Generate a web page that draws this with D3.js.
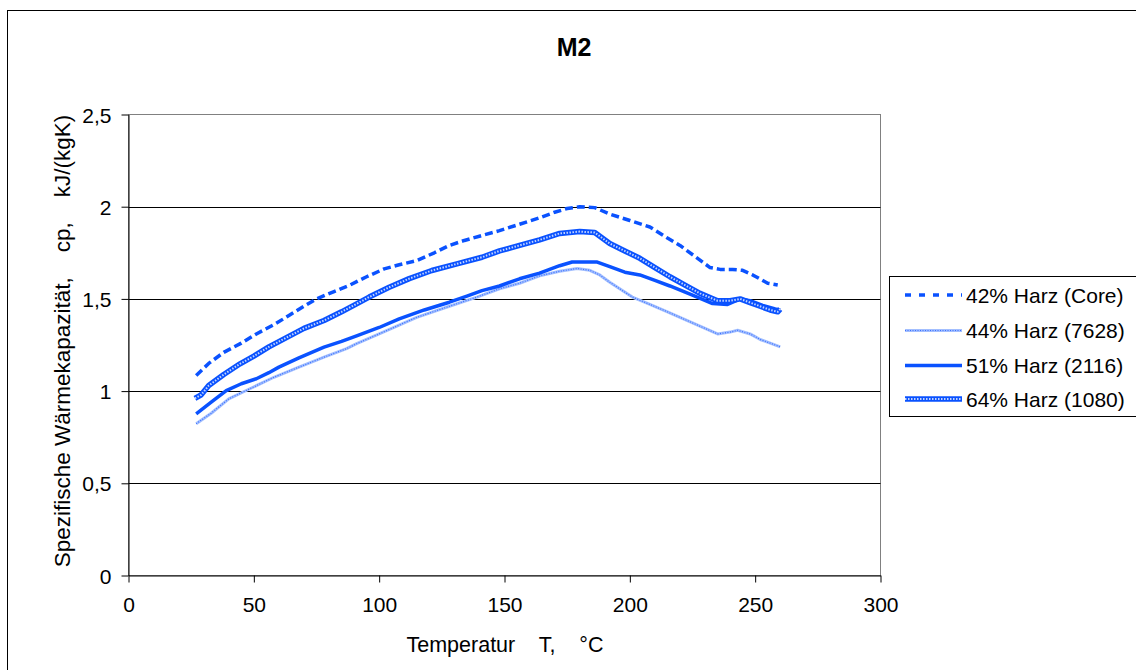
<!DOCTYPE html>
<html>
<head>
<meta charset="utf-8">
<script src="https://cdn.jsdelivr.net/npm/d3@7"></script>
<style>
  html, body { margin: 0; padding: 0; background: #fff; }
  svg { display: block; font-family: Arial, "Liberation Sans", sans-serif; }
  .pre { white-space: pre; }
</style>
</head>
<body>
<svg id="chart" width="1136" height="670"></svg>
<script>
// Specific heat capacity of M2 laminates (different resin contents)
const chartTitle = "M2";
const xTickValues = [0, 50, 100, 150, 200, 250, 300];
const yTickValues = [0, 0.5, 1, 1.5, 2, 2.5];
const seriesNames = ["42% Harz (Core)", "44% Harz (7628)", "51% Harz (2116)", "64% Harz (1080)"];

// 42% Harz (Core)
const tCore = [27, 32, 38, 45, 51, 58, 64, 70, 75, 82, 88, 95, 102, 108, 115, 122, 128, 134, 140, 148, 156, 164, 170, 175, 180, 186, 192, 200, 208, 215, 220, 226, 232, 236, 241, 245, 249, 255, 259];
const cpCore = [1.085, 1.15, 1.21, 1.26, 1.31, 1.36, 1.41, 1.46, 1.50, 1.54, 1.573, 1.62, 1.663, 1.685, 1.708, 1.75, 1.79, 1.817, 1.84, 1.87, 1.905, 1.94, 1.97, 1.99, 2.0, 1.995, 1.96, 1.925, 1.89, 1.83, 1.79, 1.73, 1.67, 1.66, 1.66, 1.655, 1.63, 1.585, 1.575];

// 44% Harz (7628)
const t7628 = [27, 33, 40, 48, 58, 68, 78, 87, 91, 100, 115, 128, 139, 148, 156, 164, 172, 179, 184, 188, 192, 201, 208, 215, 225, 230, 235, 240, 243, 248, 252, 256, 260];
const cp7628 = [0.823, 0.88, 0.958, 1.01, 1.075, 1.13, 1.184, 1.23, 1.257, 1.31, 1.40, 1.46, 1.51, 1.555, 1.585, 1.625, 1.65, 1.665, 1.655, 1.63, 1.59, 1.51, 1.47, 1.43, 1.37, 1.34, 1.31, 1.32, 1.33, 1.31, 1.28, 1.26, 1.24];

// 51% Harz (2116)
const t2116 = [27, 33, 39, 45, 51, 56, 60, 68, 78, 85, 91, 100, 108, 118, 128, 135, 141, 148, 156, 164, 172, 177, 187, 192, 198, 204, 210, 216, 225, 233, 239, 244, 248, 253, 258, 260];
const cp2116 = [0.877, 0.94, 1.003, 1.04, 1.067, 1.10, 1.13, 1.18, 1.238, 1.27, 1.30, 1.345, 1.392, 1.44, 1.482, 1.515, 1.545, 1.57, 1.609, 1.64, 1.68, 1.70, 1.70, 1.675, 1.645, 1.63, 1.60, 1.57, 1.52, 1.475, 1.47, 1.50, 1.49, 1.465, 1.445, 1.44];

// 64% Harz (1080)
const t1080 = [26.5, 29, 32, 38, 44.5, 50, 56, 63, 70, 78, 85, 91, 96, 104, 112, 121, 131, 141, 148, 156, 164, 172, 180, 186, 192, 198, 204, 210, 216, 222, 228, 235, 240, 244, 248, 252, 256, 259, 260];
const cp1080 = [0.96, 0.98, 1.03, 1.09, 1.148, 1.19, 1.24, 1.29, 1.34, 1.383, 1.43, 1.473, 1.51, 1.563, 1.61, 1.654, 1.69, 1.726, 1.76, 1.79, 1.82, 1.855, 1.865, 1.86, 1.80, 1.76, 1.72, 1.67, 1.62, 1.575, 1.53, 1.49, 1.49, 1.50, 1.48, 1.46, 1.44, 1.43, 1.445];

const blue = "#0a52ff";
const svg = d3.select("#chart");

// outer chart frame
svg.append("rect")
  .attr("x", 7.5).attr("y", 10.5)
  .attr("width", 1140).attr("height", 670)
  .attr("fill", "#fff").attr("stroke", "#000").attr("stroke-width", 1);

const plot = { left: 128.5, right: 880.5, top: 114.5, bottom: 575.5 };
const x = d3.scaleLinear().domain([0, 300]).range([plot.left, plot.right]);
const y = d3.scaleLinear().domain([0, 2.5]).range([plot.bottom, plot.top]);

// plot area
svg.append("rect")
  .attr("x", plot.left).attr("y", plot.top)
  .attr("width", plot.right - plot.left).attr("height", plot.bottom - plot.top)
  .attr("fill", "#fff").attr("stroke", "#808080").attr("stroke-width", 1);

// horizontal gridlines
svg.append("g").selectAll("line")
  .data(yTickValues.filter(v => v > 0 && v < 2.5))
  .join("line")
  .attr("x1", plot.left).attr("x2", plot.right)
  .attr("y1", d => Math.round(y(d)) + 0.5).attr("y2", d => Math.round(y(d)) + 0.5)
  .attr("stroke", "#000").attr("stroke-width", 1);

// axes
const fmt = d => String(d).replace(".", ",");
const yAxis = svg.append("g")
  .attr("transform", `translate(${plot.left},0)`)
  .call(d3.axisLeft(y).tickValues(yTickValues).tickFormat(fmt).tickSize(7).tickSizeOuter(0));
const xAxis = svg.append("g")
  .attr("transform", `translate(0,${plot.bottom})`)
  .call(d3.axisBottom(x).tickValues(xTickValues).tickFormat(d3.format("d")).tickSize(7).tickSizeOuter(0));

[yAxis, xAxis].forEach(g => {
  g.select(".domain").attr("stroke", "#000").attr("stroke-width", 1);
  g.selectAll(".tick line").attr("stroke", "#000");
  g.selectAll(".tick text")
    .attr("fill", "#000")
    .style("font-size", "21px")
    .style("font-family", "Arial, 'Liberation Sans', sans-serif");
});
yAxis.selectAll(".tick text").attr("x", -17).attr("dy", "0.36em");
xAxis.selectAll(".tick text").attr("y", 22).attr("dy", "0.71em");

// series lines
const line = d3.line().x(d => x(d[0])).y(d => y(d[1]));
const zip = (t, v) => t.map((d, i) => [d, v[i]]);

const styles = [
  { name: seriesNames[0], data: zip(tCore, cpCore), layers: [{ color: blue, width: 3.5, dash: "8,4" }], legend: [{ color: blue, width: 3.5, dash: "6,8" }] },
  { name: seriesNames[1], data: zip(t7628, cp7628), layers: [{ color: "#a3bfff", width: 3 }, { color: "#3d72ff", width: 1.2, dash: "1,1.5" }] },
  { name: seriesNames[2], data: zip(t2116, cp2116), layers: [{ color: blue, width: 3.5 }] },
  { name: seriesNames[3], data: zip(t1080, cp1080), layers: [{ color: blue, width: 5.5 }, { color: "#ffffff", width: 2, dash: "1.5,1.5", opacity: 0.75 }] }
];

const seriesG = svg.append("g");
styles.forEach(s => {
  s.layers.forEach(l => {
    seriesG.append("path")
      .datum(s.data)
      .attr("d", line)
      .attr("fill", "none")
      .attr("stroke", l.color)
      .attr("stroke-width", l.width)
      .attr("stroke-dasharray", l.dash || null)
      .attr("stroke-opacity", l.opacity || 1)
      .attr("stroke-linejoin", "round");
  });
});

// title
svg.append("text")
  .attr("x", 574).attr("y", 56)
  .attr("text-anchor", "middle")
  .style("font-size", "25px").style("font-weight", "bold")
  .text(chartTitle);

// axis titles
svg.append("text")
  .attr("class", "pre")
  .attr("x", 505).attr("y", 652)
  .attr("text-anchor", "middle")
  .style("font-size", "21.5px")
  .text("Temperatur    T,    °C");

svg.append("text")
  .attr("class", "pre")
  .attr("transform", "translate(70,341) rotate(-90)")
  .attr("text-anchor", "middle")
  .style("font-size", "22.5px")
  .text("Spezifische Wärmekapazität,    cp,    kJ/(kgK)");

// legend
const legend = svg.append("g");
legend.append("rect")
  .attr("x", 889.5).attr("y", 276.5)
  .attr("width", 260).attr("height", 140)
  .attr("fill", "#fff").attr("stroke", "#000").attr("stroke-width", 1);

const rowY = [295, 330.5, 365.5, 399];
styles.forEach((s, i) => {
  const layers = s.legend || s.layers;
  layers.forEach(l => {
    legend.append("line")
      .attr("x1", 905).attr("x2", 962)
      .attr("y1", rowY[i]).attr("y2", rowY[i])
      .attr("stroke", l.color)
      .attr("stroke-width", l.width)
      .attr("stroke-dasharray", l.dash || null)
      .attr("stroke-opacity", l.opacity || 1);
  });
  legend.append("text")
    .attr("x", 966).attr("y", rowY[i])
    .attr("dy", "0.36em")
    .style("font-size", "21px")
    .text(s.name);
});
</script>
</body>
</html>
